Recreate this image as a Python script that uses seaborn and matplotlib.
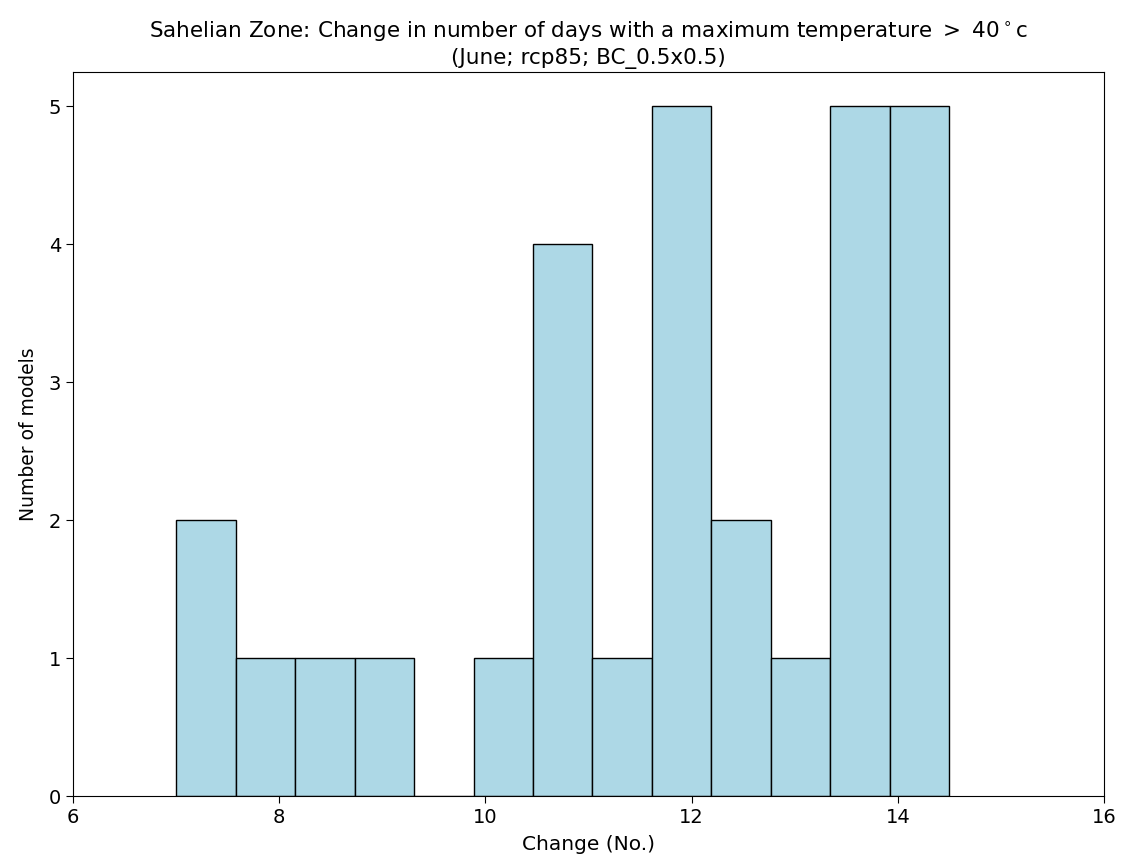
import matplotlib
matplotlib.use("Agg")
import matplotlib.pyplot as plt
import seaborn as sns
import numpy as np

# Histogram data
bin_edges = [7.0, 7.577, 8.154, 8.731, 9.308, 9.885, 10.462, 11.038,
             11.615, 12.192, 12.769, 13.346, 13.923, 14.5]
counts = [2, 1, 1, 1, 0, 1, 4, 1, 5, 2, 1, 5, 5]
x_ticks = [6, 8, 10, 12, 14, 16]
y_ticks = [0, 1, 2, 3, 4, 5]

centers = [(a + b) / 2 for a, b in zip(bin_edges[:-1], bin_edges[1:])]

fig = plt.figure(figsize=(11.23, 8.65), dpi=100)
ax = fig.add_axes([73 / 1123, 1 - 796 / 865, (1104 - 73) / 1123, (796 - 72) / 865])

sns.histplot(x=centers, weights=counts, bins=bin_edges, color="lightblue",
             edgecolor="black", linewidth=1.0, alpha=1.0, ax=ax)

ax.set_xlim(6, 16)
ax.set_xticks(x_ticks)
ax.set_yticks(y_ticks)
ax.set_xlabel("Change (No.)", fontsize=14.5, labelpad=6)
ax.set_ylabel("Number of models", fontsize=13.5, labelpad=8)
ax.tick_params(labelsize=14, length=5)
ax.set_title("Sahelian Zone: Change in number of days with a maximum temperature $>$ 40$^\\circ$c\n"
             "(June; rcp85; BC_0.5x0.5)", fontsize=15.5, pad=6)

fig.savefig("out.png", dpi=100)
